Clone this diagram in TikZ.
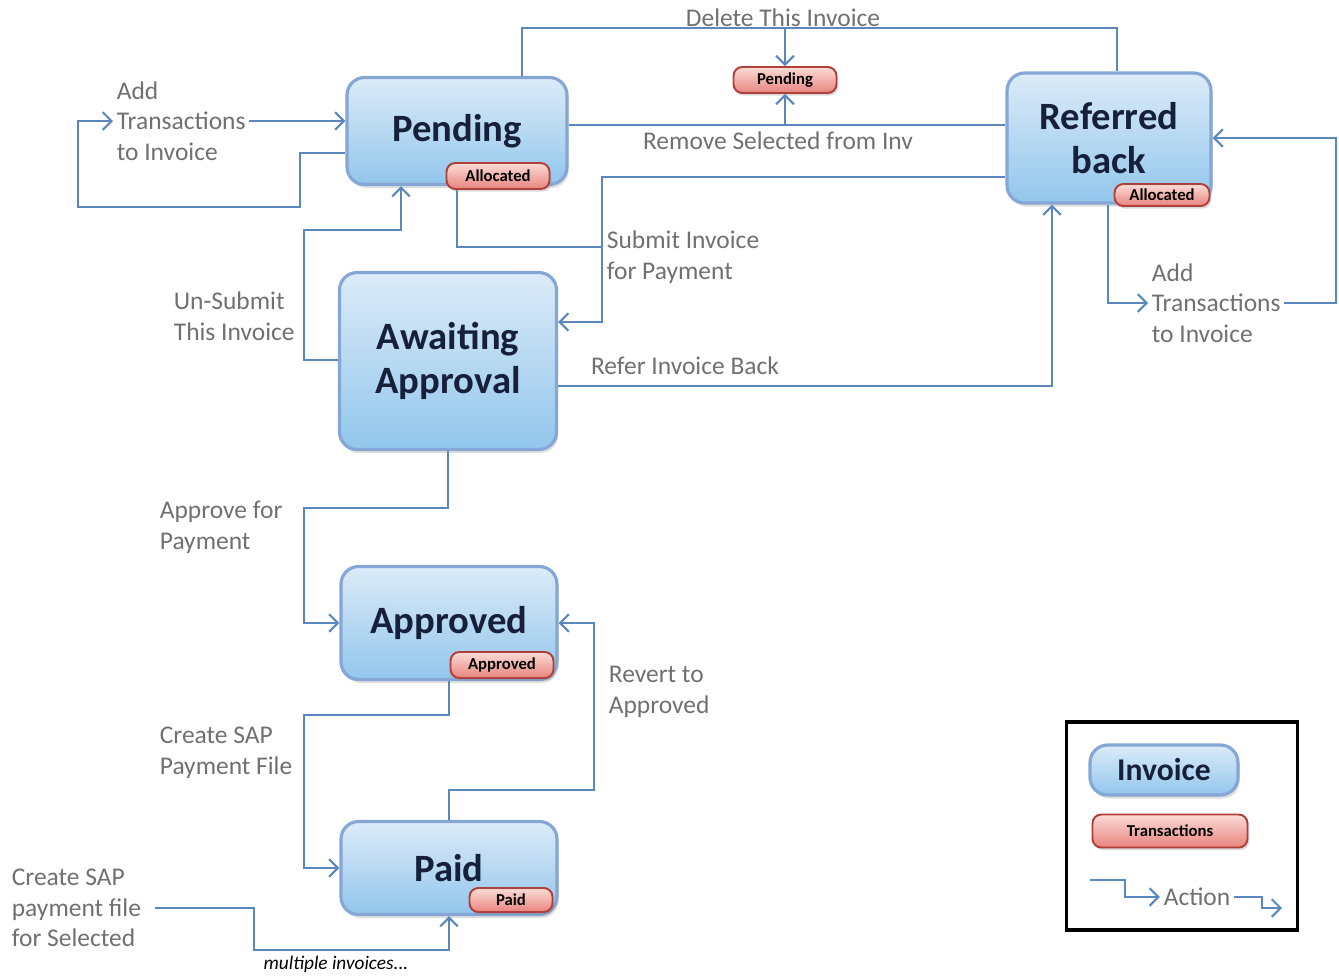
\documentclass[tikz,border=0pt]{standalone}
\usepackage{fontspec}
\setmainfont{Carlito}
\usetikzlibrary{arrows.meta,shadows}
\definecolor{flowblue}{HTML}{5A87BD}
\definecolor{labelgray}{HTML}{707070}
\definecolor{boxedge}{HTML}{86A6D6}
\definecolor{boxtop}{HTML}{DCEBF8}
\definecolor{boxbot}{HTML}{92C6EC}
\definecolor{navytext}{HTML}{17203A}
\definecolor{tagedge}{HTML}{B0403B}
\definecolor{tagtop}{HTML}{FCDCD6}
\definecolor{tagbot}{HTML}{E8837E}
\begin{document}
\begin{tikzpicture}[x=0.02cm,y=-0.02cm,>={Straight Barb[length=5pt,width=10pt]},
  invoice/.style={draw=boxedge,line width=1.8pt,rounded corners=10pt,top color=boxtop,bottom color=boxbot,
    drop shadow={opacity=0.25,shadow xshift=1pt,shadow yshift=-2pt},
    text=navytext,align=center,font=\fontsize{22}{25}\selectfont\bfseries},
  tag/.style={draw=tagedge,line width=1.1pt,rounded corners=5pt,top color=tagtop,bottom color=tagbot,
    drop shadow={opacity=0.3,shadow xshift=1pt,shadow yshift=-1.5pt},
    minimum width=2.06cm,minimum height=0.52cm,inner sep=1pt,font=\fontsize{9.5}{11}\selectfont\bfseries},
  act/.style={text=labelgray,align=left,inner sep=2pt,font=\fontsize{14.5}{17.5}\selectfont},
  flow/.style={draw=flowblue,line width=1.2pt}]
\useasboundingbox (0,0) rectangle (1339,975);
\node[invoice,minimum width=4.4cm,minimum height=2.14cm] (pend) at (457,131) {\raisebox{-3pt}{Pending}};
\node[invoice,minimum width=4.08cm,minimum height=2.6cm] (rb) at (1109,138) {Referred\\back};
\node[invoice,minimum width=4.34cm,minimum height=3.54cm] (await) at (448,361) {Awaiting\\Approval};
\node[invoice,minimum width=4.32cm,minimum height=2.26cm] (appr) at (449,623) {\raisebox{-3pt}{Approved}};
\node[invoice,minimum width=4.32cm,minimum height=1.86cm] (paid) at (449,868) {\raisebox{-3pt}{Paid}};
\node[tag] (pendtag) at (785,80) {Pending};
\node[act] (lbldel) at (783,18) {Delete This Invoice};
\node[act] (lblrem) at (778,141) {Remove Selected from Inv};
\node[act,anchor=west] (lbladd1) at (113,121) {Add\\Transactions\\to Invoice};
\node[act,anchor=west] (lbladd2) at (1148,303) {Add\\Transactions\\to Invoice};
\node[act,anchor=west] (lblsub) at (603,257) {Submit Invoice\\for Payment};
\node[act,anchor=west] (lblunsub) at (170,316) {Un-Submit\\This Invoice};
\node[act] (lblref) at (685,366) {Refer Invoice Back};
\node[act,anchor=west] (lblapp) at (156,527) {Approve for\\Payment};
\node[act,anchor=west] (lblsap) at (156,753) {Create SAP\\Payment File};
\node[act,anchor=west] (lblrev) at (605,692) {Revert to\\Approved};
\node[act,anchor=west] (lblsel) at (8,908) {Create SAP\\payment file\\for Selected};
\node[text=black,font=\fontsize{11}{12}\selectfont\itshape] (lblmulti) at (336,964) {multiple invoices...};
\coordinate (d1) at (522,28);
\coordinate (d2) at (1117,28);
\coordinate (r1) at (785,125);
\coordinate (l1) at (300,153);
\coordinate (l2) at (78,207);
\coordinate (s1) at (602,177);
\coordinate (s2) at (602,247);
\coordinate (s3) at (602,322);
\coordinate (u1) at (304,360);
\coordinate (u2) at (401,230);
\coordinate (f1) at (1052,386);
\coordinate (k1) at (1108,298);
\coordinate (k2) at (1336,138);
\coordinate (a1) at (304,508);
\coordinate (c1) at (304,715);
\coordinate (v1) at (594,790);
\coordinate (m1) at (254,950);
\draw[flow] (pend.north -| d1) |- (d2) -- (rb.north -| d2);
\draw[flow,->] (pendtag.north |- d1) -- (pendtag.north);
\draw[flow] (pend.east |- r1) -- (rb.west |- r1);
\draw[flow,->] (r1) -- (pendtag.south);
\draw[flow,->] (lbladd1.east) -- (pend.west |- lbladd1.east);
\draw[flow,->] (pend.west |- l1) -- (l1) |- (l2) |- (lbladd1.west);
\draw[flow,->] (rb.west |- s1) -- (s1) -- (s3) -- (await.east |- s3);
\draw[flow] (pend.south) |- (s2);
\draw[flow,->] (await.west |- u1) -- (u1) |- (u2) -- (pend.south -| u2);
\draw[flow,->] (await.east |- f1) -- (f1) -- (rb.south -| f1);
\draw[flow,->] (rb.south -| k1) |- (lbladd2.west);
\draw[flow,->] (lbladd2.east) -| (k2) -- (rb.east);
\draw[flow,->] (await.south) |- (a1) |- (appr.west);
\draw[flow,->] (appr.south) |- (c1) |- (paid.west);
\draw[flow,->] (paid.north) |- (v1) |- (appr.east);
\draw[flow,->,shorten <=6pt] (lblsel.east) -| (m1) -| (paid.south);
\node[tag] (alloc1) at (498,176) {Allocated};
\node[tag,minimum width=1.9cm,minimum height=0.44cm] (alloc2) at (1162,195) {Allocated};
\node[tag] (apptag) at (502,665) {Approved};
\node[tag,minimum width=1.66cm,minimum height=0.48cm] (paidtag) at (511,900) {Paid};
\node[draw=black,line width=2pt,minimum width=4.62cm,minimum height=4.16cm] (legend) at (1182,826) {};
\node[invoice,minimum width=2.96cm,minimum height=1.0cm,font=\fontsize{18}{20}\selectfont\bfseries] (leginv) at (1164,770) {Invoice};
\node[tag,minimum width=3.1cm,minimum height=0.66cm] (legtag) at (1170,831) {Transactions};
\node[act] (legact) at (1197,897) {Action};
\coordinate (g1) at (1090,880);
\coordinate (g2) at (1125,880);
\coordinate (g3) at (1262,908);
\coordinate (g4) at (1282,908);
\draw[flow,->] (g1) -- (g2) |- (legact.west);
\draw[flow,->] (legact.east) -| (g3) -- (g4);
\end{tikzpicture}
\end{document}
